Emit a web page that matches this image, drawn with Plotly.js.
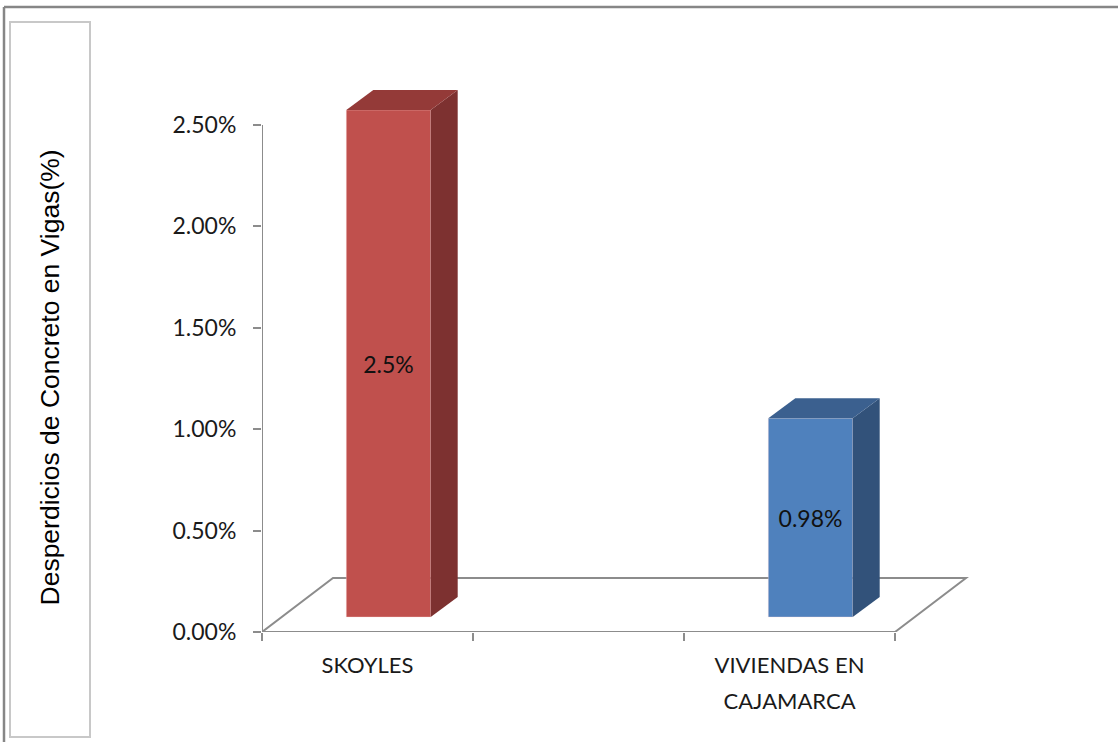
<!DOCTYPE html>
<html>
<head>
<meta charset="utf-8">
<script src="https://cdn.plot.ly/plotly-3.0.1.min.js"></script>
<style>
  html, body { margin: 0; padding: 0; background: #ffffff; }
  #chart { width: 1118px; height: 742px; }
</style>
</head>
<body>
<div id="chart"></div>
<script>
// ---- data ----
const categories = ["SKOYLES", "", "VIVIENDAS EN CAJAMARCA"];
const values = [2.5, null, 0.98];
const valueLabels = ["2.5%", "", "0.98%"];
const yTickValues = [0, 0.5, 1.0, 1.5, 2.0, 2.5];
const yTickLabels = ["0.00%", "0.50%", "1.00%", "1.50%", "2.00%", "2.50%"];
const yTitle = "Desperdicios de Concreto en Vigas(%)";

// ---- styles ----
const frontColors = ["#C0504D", null, "#4F81BD"];
const sideColors  = ["#7D3130", null, "#32527A"];
const topColors   = ["#943A38", null, "#3B608F"];
const gridGray = "#8C8C8C";

// ---- layout geometry (pixels) ----
const W = 1118, H = 742;
const L = 262, R = 985, T = 80, B = 632;
const pxPerX = 211, pxPerY = 202.8;
const ux = px => px / pxPerX;
const uy = px => px / pxPerY;
const xRange = [-0.5, -0.5 + (R - L) / pxPerX];
const yRange = [0, (B - T) / pxPerY];
const FX = ux(71), FY = uy(54);   // floor depth
const BX = ux(21), BY = uy(15);   // bar front plane offset
const DX = ux(27), DY = uy(20);   // bar depth
const HW = 0.2;                   // half bar width
const px2paperX = px => (px - L) / (R - L);
const px2paperY = py => (B - py) / (B - T);

function wrapLines(s, maxLen) {
  const words = s.split(" ");
  const lines = [];
  let cur = "";
  words.forEach(w => {
    if (cur && (cur + " " + w).length > maxLen) { lines.push(cur); cur = w; }
    else cur = cur ? cur + " " + w : w;
  });
  if (cur) lines.push(cur);
  return lines;
}
const wrapped = categories.map(c => wrapLines(c, 13));

const idx = categories.map((c, i) => i);
const boundaries = [-0.5].concat(idx.map(i => i + 0.5));

const traces = [];
// front faces
traces.push({
  type: "bar",
  x: idx.map(i => i + BX),
  y: values,
  base: values.map(v => v == null ? null : BY),
  width: HW * 2,
  marker: { color: frontColors, line: { color: "rgba(255,220,220,0.35)", width: 1 } },
  text: valueLabels,
  textposition: "inside",
  insidetextanchor: "middle",
  textangle: 0,
  textfont: { family: "Lato, 'Open Sans', sans-serif", size: 23, color: "#111111" },
  hoverinfo: "skip",
  showlegend: false
});
// side & top faces
values.forEach((v, i) => {
  if (v == null) return;
  const x0 = i + BX + HW, xl = i + BX - HW;
  traces.push({
    type: "scatter", mode: "lines", fill: "toself",
    x: [x0, x0 + DX, x0 + DX, x0, x0],
    y: [BY, BY + DY, BY + v + DY, BY + v, BY],
    fillcolor: sideColors[i], line: { width: 0 },
    hoverinfo: "skip", showlegend: false
  });
  traces.push({
    type: "scatter", mode: "lines", fill: "toself",
    x: [xl, x0, x0 + DX, xl + DX, xl],
    y: [BY + v, BY + v, BY + v + DY, BY + v + DY, BY + v],
    fillcolor: topColors[i], line: { width: 0 },
    hoverinfo: "skip", showlegend: false
  });
});
// helper traces so the label axes are drawn
["x2", "x3"].forEach(ax => traces.push({
  type: "scatter", mode: "markers", xaxis: ax, yaxis: "y",
  x: idx, y: idx.map(() => 0), marker: { opacity: 0 },
  hoverinfo: "skip", showlegend: false
}));

const shapes = [
  // outer border
  { type: "line", xref: "paper", yref: "paper", layer: "below",
    x0: px2paperX(4), y0: px2paperY(7), x1: px2paperX(W + 5), y1: px2paperY(7),
    line: { color: "#868686", width: 2.5 } },
  { type: "line", xref: "paper", yref: "paper", layer: "below",
    x0: px2paperX(4), y0: px2paperY(7), x1: px2paperX(4), y1: px2paperY(H + 5),
    line: { color: "#868686", width: 2.5 } },
  // title box
  { type: "rect", xref: "paper", yref: "paper", layer: "below",
    x0: px2paperX(10), y0: px2paperY(22), x1: px2paperX(90), y1: px2paperY(737),
    line: { color: "#C8C8C8", width: 2 } },
  // floor
  { type: "path", xref: "x", yref: "y", layer: "below",
    path: `M ${boundaries[0]},0 L ${boundaries[boundaries.length-1]},0 L ${boundaries[boundaries.length-1]+FX},${FY} L ${boundaries[0]+FX},${FY} Z`,
    line: { color: gridGray, width: 2 } },
  // y axis line
  { type: "line", xref: "x", yref: "y", layer: "below",
    x0: boundaries[0], y0: yTickValues[0], x1: boundaries[0], y1: yTickValues[yTickValues.length-1],
    line: { color: gridGray, width: 2 } }
];

const labelFont = { family: "Lato, 'Open Sans', sans-serif", size: 22, color: "#1a1a1a" };
const labelAxis = (lineNo, standoff) => ({
  type: "linear", overlaying: "x", anchor: "y", side: "bottom", range: xRange,
  tickmode: "array", tickvals: idx, ticktext: wrapped.map(ls => ls[lineNo] || " "),
  ticks: "", showgrid: false, zeroline: false, showline: false, fixedrange: true,
  ticklabelstandoff: standoff, tickfont: labelFont
});

const layout = {
  width: W, height: H,
  margin: { l: L, r: W - R, t: T, b: H - B, pad: 0 },
  paper_bgcolor: "#ffffff", plot_bgcolor: "rgba(0,0,0,0)",
  showlegend: false, hovermode: false,
  xaxis: {
    type: "linear", range: xRange, tickmode: "array", tickvals: boundaries,
    showticklabels: false, ticks: "outside", ticklen: 8, tickwidth: 2, tickcolor: gridGray,
    showgrid: false, zeroline: false, showline: false, fixedrange: true
  },
  xaxis2: labelAxis(0, 18),
  xaxis3: labelAxis(1, 54),
  yaxis: {
    range: yRange, tickmode: "array", tickvals: yTickValues, ticktext: yTickLabels,
    ticks: "outside", ticklen: 8, tickwidth: 2, tickcolor: gridGray,
    showgrid: false, zeroline: false, showline: false, fixedrange: true,
    ticklabelstandoff: 12,
    tickfont: { family: "Lato, 'Open Sans', sans-serif", size: 23, color: "#1a1a1a" }
  },
  annotations: [{
    text: yTitle, textangle: -90, showarrow: false,
    xref: "paper", yref: "paper", x: px2paperX(49), y: px2paperY(377.5),
    xanchor: "center", yanchor: "middle",
    font: { family: "'Liberation Sans', Arial, sans-serif", size: 26.5, color: "#000000" }
  }],
  shapes: shapes
};

Plotly.newPlot("chart", traces, layout, { displayModeBar: false, staticPlot: true });
</script>
</body>
</html>
